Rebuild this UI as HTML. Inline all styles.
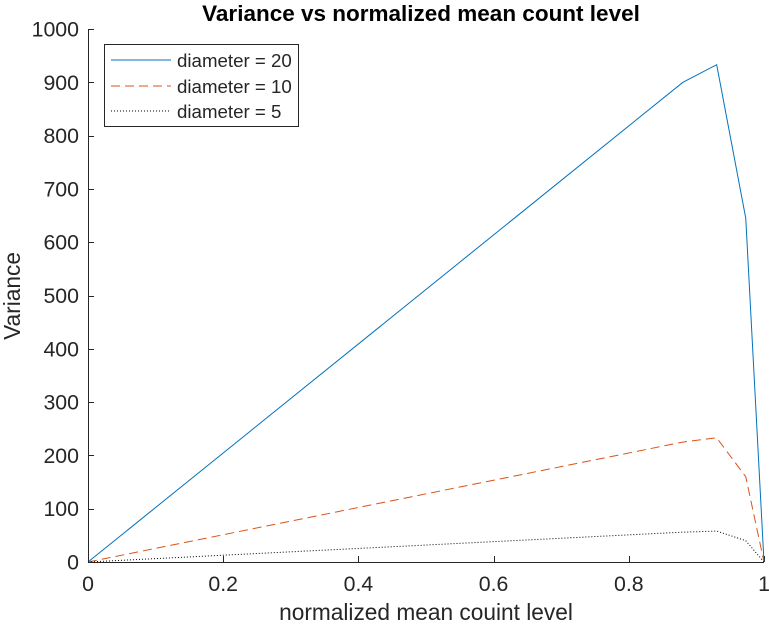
<!DOCTYPE html>
<html><head><meta charset="utf-8"><style>
body{margin:0;background:#fff;}
svg text{font-family:"Liberation Sans",Arial,sans-serif;fill:#262626;}
</style></head><body>
<svg id="chart" width="769" height="626">
<rect width="769" height="626" fill="#fff"/>
<text x="421" y="21" font-size="22.5" font-weight="bold" text-anchor="middle" style="fill:#000">Variance vs normalized mean count level</text>
<g id="axes"></g>
<g id="series"></g>
<text x="426" y="620" font-size="22.7" text-anchor="middle">normalized mean couint level</text>
<text transform="translate(20,296) rotate(-90)" font-size="22.7" text-anchor="middle">Variance</text>
<g>
<rect x="104.5" y="44.5" width="194" height="82" fill="#fff" stroke="#262626" stroke-width="1"/>
<line x1="111" y1="60" x2="171" y2="60" stroke="#0072BD" stroke-width="1"/>
<text x="177" y="67" font-size="18.7">diameter = 20</text>
<line x1="111" y1="86" x2="171" y2="86" stroke="#D95319" stroke-width="1" stroke-dasharray="9,5"/>
<text x="177" y="93" font-size="18.7">diameter = 10</text>
<line x1="111" y1="111" x2="171" y2="111" stroke="#000" stroke-width="1" stroke-dasharray="1,2"/>
<text x="177" y="118" font-size="18.7">diameter = 5</text>
</g>
</svg>
<script>
const xValues=[0,0.88,0.93,0.973,1];
const d20=[0,900,933,645,0];
const d10=[0,225,233,160,0];
const d5=[0,56,58,40,0];
const xTicks=[0,0.2,0.4,0.6,0.8,1];
const xTickLabels=["0","0.2","0.4","0.6","0.8","1"];
const yTicks=[0,100,200,300,400,500,600,700,800,900,1000];
const L=88,R=764,T=29,B=562;
const sx=v=>L+(R-L)*v, sy=v=>B-(B-T)*v/1000;
const NS="http://www.w3.org/2000/svg";
const ax=document.getElementById('axes'), se=document.getElementById('series');
function mk(tag,attrs,parent){const e=document.createElementNS(NS,tag);for(const k in attrs)e.setAttribute(k,attrs[k]);parent.appendChild(e);return e;}
const xa=mk('line',{x1:L,y1:B+0.5,x2:R,y2:B+0.5,stroke:'#262626'},ax);


const ya=mk('line',{x1:L+0.5,y1:T,x2:L+0.5,y2:B,stroke:'#262626'},ax);


xTicks.forEach((v,i)=>{const x=Math.round(sx(v))+0.5;
mk('line',{x1:x,y1:B,x2:x,y2:B-6,stroke:'#262626'},ax);
const t=mk('text',{x:sx(v),y:B+29,'font-size':21.3,'text-anchor':'middle'},ax);t.textContent=xTickLabels[i];

});
yTicks.forEach(v=>{const y=Math.round(sy(v))+0.5;
mk('line',{x1:L,y1:y,x2:L+6,y2:y,stroke:'#262626'},ax);
const t=mk('text',{x:L-9,y:sy(v)+7.5,'font-size':21.3,'text-anchor':'end'},ax);t.textContent=v;

});
function line(vals,color,dash,name){const p=mk('polyline',{points:vals.map((v,i)=>sx(xValues[i])+','+sy(v)).join(' '),fill:'none',stroke:color,'stroke-width':1},se);
if(dash)p.setAttribute('stroke-dasharray',dash);

}
line(d20,'#0072BD',null,'line-diameter-20');
line(d10,'#D95319','9,5','line-diameter-10');
line(d5,'#000','1,2','line-diameter-5');
</script>
</body></html>
